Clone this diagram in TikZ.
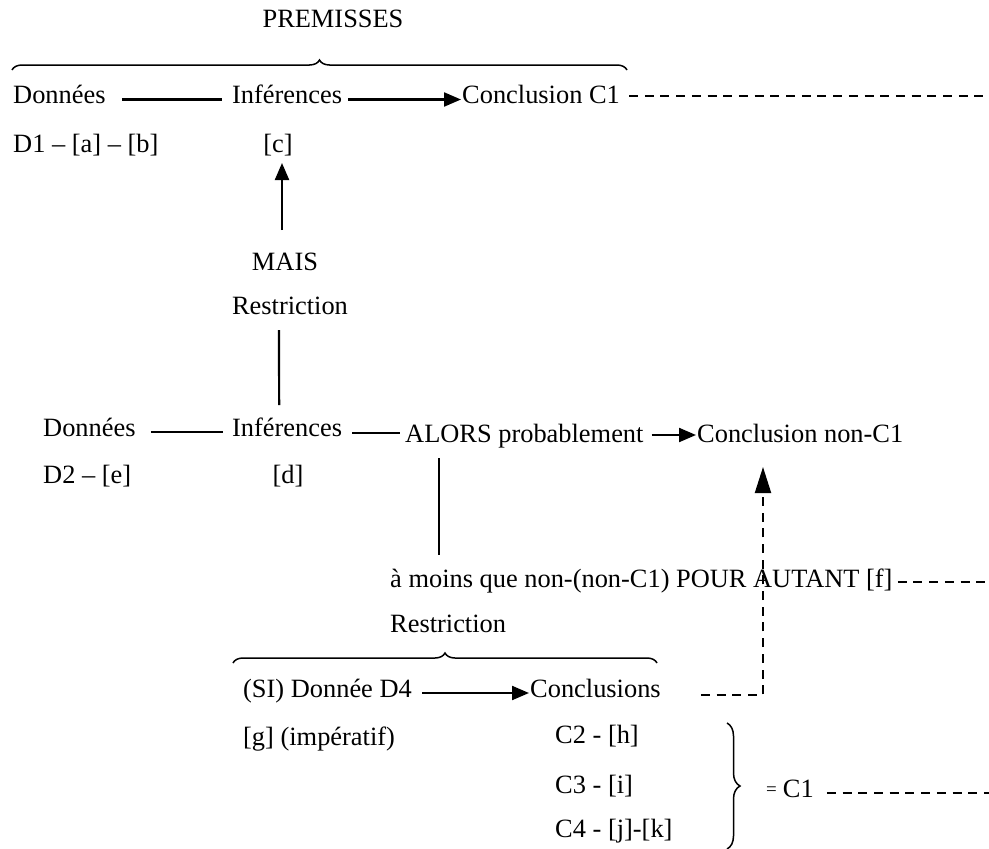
\documentclass[tikz,border=0pt]{standalone}
\usepackage{fontspec}
\setmainfont{Liberation Serif}
\usetikzlibrary{arrows.meta,decorations.pathreplacing}
\begin{document}
\begin{tikzpicture}[x=1pt,y=-1pt,
  lbl/.style={anchor=base west,inner sep=0pt,font=\fontsize{26.4}{30}\selectfont},
  clbl/.style={anchor=base,inner sep=0pt,font=\fontsize{26.4}{30}\selectfont},
  link/.style={line width=2.2pt},
  arr/.style={line width=2.2pt,-{Triangle[length=17pt,width=14pt]}},
  dashlink/.style={line width=2pt,dash pattern=on 9pt off 6.7pt},
  curly/.style={line width=1.5pt,decorate,decoration={brace,amplitude=10pt}}
]
\useasboundingbox (0,0) rectangle (989,849);

% premises
\node[clbl] (prem) at (333,27) {PREMISSES};
\draw[curly] (12,70) -- (627,70);
\node[lbl] (don1) at (13,103) {Données};
\node[lbl] (inf1) at (232,103) {Inférences};
\node[lbl] (con1) at (462,103) {Conclusion C1};
\node[lbl] (d1) at (13,152) {D1 – [a] – [b]};
\node[clbl] (c) at (278,152) {[c]};
\node[clbl] (mais) at (285,270) {MAIS};
\node[clbl] (res1) at (290,314) {Restriction};

% counter-argument
\node[lbl] (don2) at (43,436) {Données};
\node[lbl] (inf2) at (232,436) {Inférences};
\node[lbl] (alors) at (405,442) {ALORS probablement};
\node[lbl] (con2) at (697,442) {Conclusion non-C1};
\node[lbl] (d2) at (43,483) {D2 – [e]};
\node[clbl] (d) at (288,483) {[d]};
\node[lbl] (amoins) at (390,587) {à moins que non-(non-C1) POUR AUTANT [f]};
\node[lbl] (res2) at (390,632) {Restriction};

% restriction
\draw[curly] (233,663) -- (657,663);
\node[lbl] (si) at (243,697) {(SI) Donnée D4};
\node[lbl] (concl) at (530,697) {Conclusions};
\node[lbl] (g) at (243,745) {[g] (impératif)};
\node[lbl] (c2) at (555,743) {C2 - [h]};
\node[lbl] (c3) at (555,793) {C3 - [i]};
\node[lbl] (c4) at (555,837) {C4 - [j]-[k]};
\draw[curly,decoration={brace,amplitude=13pt}] (727,723) -- (727,849);
\node[lbl] (eq) at (766,797) {\raisebox{2pt}{\fontsize{19}{20}\selectfont=}\hspace{6pt}C1};

% free ends of the dashed lines
\coordinate (e1) at (989,96);
\coordinate (e2) at (989,582);
\coordinate (e3) at (989,793);

% connectors
\draw[link] ([shift={(16,-3.5)}]don1.base east) -- ([shift={(-10,-3.5)}]inf1.base west);
\draw[arr] ([shift={(6,-3.5)}]inf1.base east) -- ([shift={(-1,-3.5)}]con1.base west);
\draw[dashlink] ([shift={(9,-7)}]con1.base east) -- (e1);
\draw[arr] ([shift={(-3,-40)}]mais.base) -- ([shift={(4,11)}]c.base);
\draw[link] ([shift={(-11,16)}]res1.base) -- ([shift={(-8,-31)}]inf2.base);

\draw[link] ([shift={(15,-4)}]don2.base east) -- ([shift={(-9,-4)}]inf2.base west);
\draw[link] ([shift={(10,-3)}]inf2.base east) -- ([shift={(-5,-9)}]alors.base west);
\draw[arr] ([shift={(8,-7)}]alors.base east) -- ([shift={(-1,-7)}]con2.base west);
\draw[link] ([shift={(34,16)}]alors.base west) -- ([shift={(49,-32)}]amoins.base west);
\draw[dashlink] ([shift={(5,-5)}]amoins.base east) -- (e2);

\draw[arr] ([shift={(10,-4)}]si.base east) -- ([shift={(-1,-4)}]concl.base west);
\draw[dashlink,-{Triangle[length=26pt,width=16pt]}] ([shift={(40,-2)}]concl.base east) -| ([shift={(66,25)}]con2.base west);
\draw[dashlink] ([shift={(13,-4)}]eq.base east) -- (e3);
\end{tikzpicture}
\end{document}
